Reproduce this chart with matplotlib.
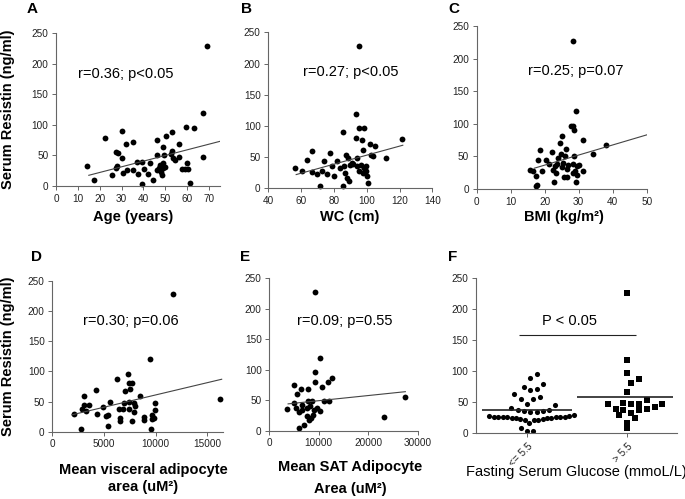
import numpy as np
import matplotlib
matplotlib.use("Agg")
import matplotlib.pyplot as plt

plt.rcParams['font.family'] = ['Liberation Sans', 'DejaVu Sans']

# --- data ---
age_a = [14.3, 17.5, 22.4, 27.6, 28.4, 25.6, 30.2, 32.0, 30.4, 28.0, 27.3, 30.8, 32.3, 35.4, 35.4,
         37.2, 37.5, 39.2, 39.5, 40.2, 42.2, 43.0, 44.2, 46.4, 46.4, 46.0, 47.6, 47.9, 48.3, 49.1,
         49.4, 49.1, 49.9, 50.3, 52.9, 53.2, 52.5, 53.7, 54.4, 56.3, 56.4, 57.5, 59.0, 59.5, 59.8,
         60.2, 61.3, 63.1, 67.4, 67.4, 69.2, 48.8, 47.2]
res_a = [33, 9, 79, 56, 54, 17.5, 90, 69, 45, 33, 30, 22, 26, 72, 26,
         39, 20, 40, 4, 28, 20, 37, 9, 75, 50, 26, 34, 23, 17.5, 64,
         50, 37, 31, 81, 58, 88, 53, 46, 42, 68, 48, 28, 28, 97, 37,
         28, 5, 95, 119, 48, 228, 29, 29.5]
trend_a_x = [15, 75]
trend_a_y = [17.5, 73]

wc_b = [56.3, 60.7, 63.8, 66.8, 66.8, 69.5, 71.5, 72.5, 74.0, 75.7, 77.4, 79.0, 80.3, 81.9, 83.7,
        85.5, 85.5, 86.3, 87.3, 87.0, 87.8, 88.8, 89.2, 89.8, 90.8, 91.8, 93.5, 93.5, 93.9, 94.3,
        95.0, 95.0, 95.6, 98.5, 97.3, 97.5, 96.5, 98.5, 98.0, 99.6, 99.8, 100.4, 100.8, 102.0,
        102.4, 103.9, 105.0, 112.0, 121.7]
res_b = [33, 28, 45, 60, 26, 23, 4, 28, 43, 23, 57, 35, 19, 44, 32,
         90, 4, 35, 54, 24, 16, 48, 11, 37, 41, 39, 119, 80, 48, 35,
         27, 228, 97, 96, 78, 62, 37, 32, 24, 36, 28, 20, 8, 71,
         54, 51, 68, 49, 79]
trend_b_x = [57, 122]
trend_b_y = [22, 69]

bmi_c = [15.7, 16.7, 17.5, 17.8, 17.3, 18.1, 18.6, 19.2, 20.4, 21.4, 22.1, 22.4, 22.7, 23.0, 23.3,
         23.7, 24.0, 24.5, 25.0, 24.8, 25.0, 25.3, 25.7, 26.0, 26.3, 26.5, 26.7, 26.9, 27.6, 28.2,
         28.2, 28.6, 28.6, 28.4, 28.4, 29.2, 29.2, 29.0, 29.6, 29.4, 30.2, 31.4, 31.2, 34.1, 38.0]
res_c = [29, 28, 20, 6, 4, 45, 60, 27, 44, 38, 56, 29, 10, 35, 24,
         39, 47, 71, 81, 54, 34, 40, 19, 50, 62, 19, 30, 37, 96, 97,
         227, 90, 50, 38, 24, 119, 10, 28, 21, 35, 37, 27, 75, 54, 68]
trend_c_x = [17, 50]
trend_c_y = [32, 83]

vis_d = [2100, 2750, 2850, 3080, 3110, 3270, 3590, 4240, 4370, 4890, 5210, 5350, 5440, 5540, 6250,
         6450, 6580, 6580, 6830, 6960, 7060, 7320, 7390, 7390, 7450, 7550, 7710, 7710, 7870, 7940,
         8030, 8450, 8900, 8900, 9450, 9650, 9650, 9560, 9810, 9980, 9980, 11660, 16230]
res_d = [29, 4, 37, 44, 59, 34, 44, 69, 29, 41, 26, 9, 27, 49, 87,
         37, 23, 18, 38, 48, 67, 95, 80, 49, 37, 71, 80, 18, 47, 33,
         42, 60, 25, 19, 120, 28, 21, 4, 23, 48, 36, 228, 55]
trend_d_x = [1900, 16400]
trend_d_y = [28, 87]

sat_e = [3640, 5060, 5060, 5330, 5660, 6000, 6000, 6340, 6540, 6680, 7080, 7550, 7550, 7750, 7890,
         8020, 8230, 8430, 8560, 8830, 8970, 9240, 9240, 9240, 9570, 10250, 10250, 10590, 10990,
         11800, 12070, 12750, 23260, 27450]
res_e = [36, 45, 75, 37, 60, 30, 4, 68, 42, 34, 9, 38, 24, 68, 48,
         18, 41, 21, 48, 26, 34, 227, 97, 80, 37, 32, 119, 71, 49,
         80, 49, 87, 23, 55]
trend_e_x = [3800, 27500]
trend_e_y = [44, 64]

glu_low = [35, 28, 27, 27, 26, 26, 25, 24, 21, 21, 22, 23, 23, 24, 17, 24, 26, 27, 27, 28, 30,
           45, 38, 36, 36, 35, 37, 41, 48, 63, 55, 55, 59, 70, 79, 72, 75, 95, 90, 9, 4, 4]
glu_high = [227, 118, 97, 88, 81, 67, 53, 48, 48, 39, 37, 43, 47, 47, 49, 30, 40, 32, 37, 25, 17, 8]
glu_labels = ["<= 5.5", "> 5.5"]

W, H = 685, 499
fig = plt.figure(figsize=(W / 100, H / 100), dpi=100)


def px_rect(l, t, r, b):
    return [l / W, 1 - b / H, (r - l) / W, (b - t) / H]


def style_axes(ax):
    for s in ['top', 'right']:
        ax.spines[s].set_visible(False)
    for s in ['left', 'bottom']:
        ax.spines[s].set_color('#666666')
        ax.spines[s].set_linewidth(0.8)
    ax.tick_params(direction='out', length=3, width=0.7, color='#666666',
                   labelsize=7.2, labelcolor='#222222', pad=2.5)
    ax.set_ylim(0, 250)
    ax.set_yticks(range(0, 251, 50))


def scatter_panel(box, x, y, tx, ty, xlim, xticks, note, note_xy):
    ax = fig.add_axes(px_rect(*box))
    ax.plot(x, y, 'o', color='black', ms=4.2, mew=0, clip_on=False)
    ax.plot(tx, ty, color='#444444', lw=0.8)
    style_axes(ax)
    ax.set_xlim(*xlim)
    ax.set_xticks(xticks)
    ax.text(note_xy[0], note_xy[1], note, fontsize=10.5, ha='left', va='center')
    return ax


scatter_panel((56, 33, 220, 186), age_a, res_a, trend_a_x, trend_a_y, (0, 75),
              range(0, 71, 10), "r=0.36; p<0.05", (10, 183))
scatter_panel((268.3, 32.3, 432.3, 188.3), wc_b, res_b, trend_b_x, trend_b_y, (40, 140),
              range(40, 141, 20), "r=0.27; p<0.05", (61, 187))
scatter_panel((476.7, 26, 646.7, 189), bmi_c, res_c, trend_c_x, trend_c_y, (0, 50),
              range(0, 51, 10), "r=0.25; p=0.07", (15, 181))
scatter_panel((52.3, 281, 222.7, 431.7), vis_d, res_d, trend_d_x, trend_d_y, (0, 16500),
              [0, 5000, 10000, 15000], "r=0.30; p=0.06", (2950, 184))
scatter_panel((269.3, 278.3, 417.7, 430.7), sat_e, res_e, trend_e_x, trend_e_y, (0, 30000),
              [0, 10000, 20000, 30000], "r=0.09; p=0.55", (5530, 180))

# --- panel F: dot plot ---
axf = fig.add_axes(px_rect(476, 278.3, 677.3, 433.3))
style_axes(axf)
axf.set_xlim(0.49, 2.5)
axf.set_xticks([1, 2])
axf.set_xticklabels(glu_labels, rotation=45, ha='right', rotation_mode='anchor', fontsize=7.2)


def spread_x(center, vals, step, max_width, bin_h=16):
    # Prism-like scatter: values binned in rows, each row spread sideways
    vals = np.asarray(vals, float)
    xs = np.full(len(vals), float(center))
    rows = np.floor(vals / bin_h)
    for r in np.unique(rows):
        idx = np.where(rows == r)[0]
        idx = idx[np.argsort(vals[idx], kind='stable')]
        n = len(idx)
        s = step if n < 2 else min(step, max_width / (n - 1))
        for k, i in enumerate(idx):
            slot = (k + 1) // 2 * (1 if k % 2 else -1)
            xs[i] = center + slot * s
        if n % 2 == 0:
            xs[idx] += s / 2
    return xs


xl = spread_x(1, glu_low, 0.063, 0.84)
xh = spread_x(2, glu_high, 0.078, 0.6)
axf.plot(xl, glu_low, 'o', color='black', ms=3.7, mew=0)
axf.plot(xh, glu_high, 's', color='black', ms=3.7, mew=0, clip_on=False)
axf.hlines([np.mean(glu_low)], 0.55, 1.45, color='#222222', lw=1.2)
axf.hlines([np.mean(glu_high)], 1.5, 2.46, color='#222222', lw=1.2)
axf.hlines([158], 0.92, 2.09, color='#222222', lw=0.8)
axf.text(1.42, 181, "P < 0.05", fontsize=10.5, ha='center', va='center')

# --- labels ---
for letter, x, y in [("A", 32, 9), ("B", 247, 9), ("C", 454, 9),
                     ("D", 37, 257), ("E", 245, 257), ("F", 453, 257)]:
    fig.text(x / W, 1 - y / H, letter, fontsize=11, fontweight='bold', ha='center', va='center')

ylab = "Serum Resistin (ng/ml)"
fig.text(8 / W, 1 - 109.5 / H, ylab, rotation=90, fontsize=10.5, fontweight='bold',
         ha='center', va='center')
fig.text(8 / W, 1 - 356 / H, ylab, rotation=90, fontsize=10.5, fontweight='bold',
         ha='center', va='center')

bold_labels = [("Age (years)", 133, 217), ("WC (cm)", 350, 217), ("BMI (kg/m\u00b2)", 564, 217),
               ("Mean visceral adipocyte", 143, 470), ("area (uM\u00b2)", 143, 487),
               ("Mean SAT Adipocyte", 350, 467), ("Area (uM\u00b2)", 350, 489)]
for txt, x, y in bold_labels:
    fig.text(x / W, 1 - y / H, txt, fontsize=10.5, fontweight='bold', ha='center', va='center')

fig.text(576 / W, 1 - 472 / H, "Fasting Serum Glucose (mmoL/L)", fontsize=10.5,
         ha='center', va='center')

fig.savefig("out.png", dpi=100)
